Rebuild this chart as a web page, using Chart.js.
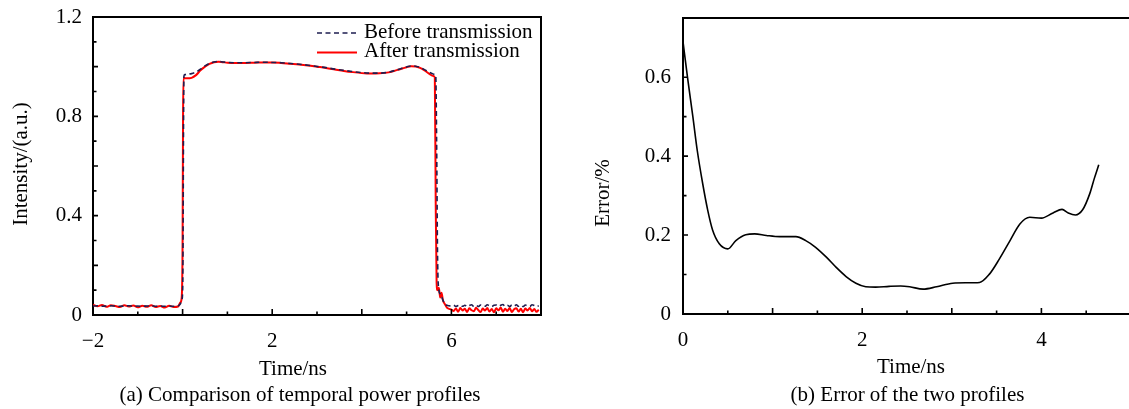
<!DOCTYPE html>
<html>
<head>
<meta charset="utf-8">
<script src="https://cdn.jsdelivr.net/npm/chart.js@4.4.1/dist/chart.umd.min.js"></script>
<style>
html,body{margin:0;padding:0;background:#fff;overflow:hidden;width:1129px;height:409px;position:relative;}
#c1{position:absolute;left:0;top:0;}
#c2{position:absolute;left:560px;top:0;}
</style>
</head>
<body>
<canvas id="c1" width="560" height="409"></canvas>
<canvas id="c2" width="575" height="409"></canvas>
<script>
// ---------- Panel (a): temporal power profiles ----------
const timeNs = [
  -2.0,-1.9,-1.8,-1.7,-1.6,-1.5,-1.4,-1.3,-1.2,-1.1,-1.0,-0.9,-0.8,-0.7,-0.6,-0.5,-0.4,-0.3,-0.2,-0.1,
  -0.05,-0.02,0.0,0.01,0.02,0.03,0.05,
  0.1,0.2,0.3,0.4,0.5,0.6,0.7,0.8,0.9,1.0,1.2,1.4,1.6,1.8,2.0,2.2,2.4,2.6,2.8,3.0,3.2,3.4,3.6,3.8,4.0,4.2,4.4,4.6,4.8,5.0,5.1,5.2,5.3,5.4,5.5,5.6,
  5.63,5.65,5.67,5.69,5.72,5.75,5.78,5.81,5.85,5.9,5.95,
  6.0,6.05,6.1,6.15,6.2,6.25,6.3,6.35,6.4,6.45,6.5,6.55,6.6,6.65,6.7,6.75,6.8,6.85,6.9,6.95,
  7.0,7.05,7.1,7.15,7.2,7.25,7.3,7.35,7.4,7.45,7.5,7.55,7.6,7.65,7.7,7.75,7.8,7.85,7.9,7.95
];
const beforeTx = [
  0.036,0.037,0.035,0.036,0.037,0.036,0.035,0.036,0.037,0.035,0.036,0.035,0.036,0.037,0.035,0.036,0.035,0.036,0.035,0.037,
  0.045,0.060,0.090,0.300,0.750,0.962,0.968,
  0.970,0.972,0.978,0.990,1.003,1.013,1.019,1.021,1.019,1.017,1.016,1.016,1.017,1.018,1.017,1.016,1.013,1.010,1.006,1.001,0.996,0.990,0.985,0.980,0.976,0.974,0.974,0.978,0.988,0.999,1.003,1.002,0.997,0.988,0.978,0.970,
  0.968,0.966,0.700,0.250,0.100,0.085,0.075,0.060,0.045,0.039,0.037,
  0.036,0.039,0.034,0.038,0.040,0.035,0.039,0.034,0.038,0.041,0.035,0.039,0.034,0.040,0.036,0.035,0.041,0.037,0.034,0.039,
  0.040,0.035,0.039,0.042,0.035,0.039,0.034,0.040,0.036,0.041,0.035,0.039,0.034,0.040,0.036,0.035,0.041,0.038,0.034,0.037
];
const afterTx = [
  0.041,0.035,0.040,0.033,0.039,0.036,0.032,0.039,0.034,0.038,0.031,0.037,0.033,0.039,0.032,0.036,0.030,0.037,0.032,0.034,
  0.050,0.070,0.300,0.800,0.955,0.955,0.953,
  0.953,0.955,0.966,0.985,1.000,1.011,1.018,1.020,1.018,1.016,1.015,1.015,1.016,1.017,1.017,1.015,1.012,1.009,1.005,1.000,0.995,0.989,0.983,0.978,0.974,0.972,0.973,0.977,0.987,0.998,1.002,1.001,0.995,0.985,0.972,0.962,
  0.955,0.450,0.130,0.100,0.110,0.070,0.090,0.060,0.045,0.030,0.025,
  0.022,0.016,0.026,0.013,0.028,0.018,0.025,0.012,0.027,0.019,0.015,0.029,0.020,0.012,0.026,0.018,0.028,0.014,0.024,0.011,
  0.027,0.019,0.030,0.013,0.025,0.016,0.028,0.012,0.023,0.027,0.014,0.025,0.011,0.026,0.018,0.028,0.015,0.024,0.013,0.021
];
const leftXLabels = [-2, 2, 6];
const leftYLabels = [0, 0.4, 0.8, 1.2];
const seriesNamesA = ['Before transmission', 'After transmission'];

// ---------- Panel (b): error of the two profiles ----------
const errTime = [0.0,0.05,0.11,0.16,0.22,0.275,0.33,0.405,0.50,0.59,0.70,0.80,0.93,1.08,1.26,1.37,1.48,1.60,1.71,1.82,1.93,2.04,2.15,2.30,2.43,2.53,2.68,2.83,3.01,3.16,3.31,3.42,3.53,3.65,3.76,3.87,4.00,4.13,4.23,4.30,4.38,4.46,4.54,4.59,4.64];
const errPct  = [0.690,0.600,0.500,0.413,0.330,0.264,0.213,0.178,0.165,0.186,0.201,0.203,0.199,0.196,0.196,0.186,0.169,0.144,0.118,0.095,0.078,0.069,0.068,0.070,0.071,0.069,0.063,0.069,0.078,0.079,0.080,0.101,0.139,0.186,0.228,0.245,0.243,0.256,0.265,0.256,0.251,0.264,0.305,0.343,0.378];
const rightXLabels = [0, 2, 4];
const rightYLabels = [0, 0.2, 0.4, 0.6];

// ---------- common ----------
const FONT = '"Liberation Serif", "Times New Roman", serif';
const near = (a, b) => Math.abs(a - b) < 1e-6;
const fmt = v => (v < 0 ? '\u2212' + Math.abs(v) : String(Math.round(v * 10) / 10));

const decor = {
  id: 'decor',
  afterDraw(chart, args, o) {
    const ctx = chart.ctx, ca = chart.chartArea;
    const xs = chart.scales.x, ys = chart.scales.y;
    ctx.save();
    ctx.strokeStyle = '#000';
    ctx.lineWidth = 2;
    ctx.setLineDash([]);
    ctx.beginPath();
    if (o.frameTop) { ctx.moveTo(ca.left - 1, ca.top); ctx.lineTo(ca.right + (o.frameRight ? 1 : 10), ca.top); }
    if (o.frameRight) { ctx.moveTo(ca.right, ca.top); ctx.lineTo(ca.right, ca.bottom + 1); }
    ctx.stroke();
    // inward tick marks from the library's ticks
    ctx.lineWidth = 1.6;
    ctx.beginPath();
    xs.ticks.forEach(t => {
      const v = t.value;
      if (near(v, xs.min) || near(v, xs.max)) return;
      const px = xs.getPixelForValue(v);
      const major = near(v / o.xMajor, Math.round(v / o.xMajor));
      const len = major ? 6 : 3.5;
      ctx.moveTo(px, ca.bottom); ctx.lineTo(px, ca.bottom - len);
    });
    ys.ticks.forEach(t => {
      const v = t.value;
      if (near(v, ys.min) || near(v, ys.max)) return;
      const py = ys.getPixelForValue(v);
      const major = near(v / o.yMajor, Math.round(v / o.yMajor));
      const len = major ? 5 : 3.5;
      ctx.moveTo(ca.left, py); ctx.lineTo(ca.left + len, py);
    });
    ctx.stroke();
    // texts
    ctx.fillStyle = '#000';
    ctx.font = '21px ' + FONT;
    ctx.textAlign = 'center';
    ctx.textBaseline = 'middle';
    ctx.fillText(o.xTitle, o.xTitlePos[0], o.xTitlePos[1]);
    ctx.fillText(o.caption, o.captionPos[0], o.captionPos[1]);
    ctx.save();
    ctx.translate(o.yTitlePos[0], o.yTitlePos[1]);
    ctx.rotate(-Math.PI / 2);
    ctx.fillText(o.yTitle, 0, 0);
    ctx.restore();
    // legend
    if (o.legend) {
      const L = o.legend;
      chart.data.datasets.forEach((ds, i) => {
        const y = L.y0 + i * L.dy;
        ctx.strokeStyle = ds.borderColor;
        ctx.lineWidth = ds.borderWidth;
        ctx.setLineDash(ds.borderDash || []);
        ctx.beginPath();
        ctx.moveTo(L.x0, y); ctx.lineTo(L.x0 + L.len, y);
        ctx.stroke();
        ctx.setLineDash([]);
        ctx.textAlign = 'left';
        ctx.fillText(ds.label, L.x0 + L.len + 7, y - 1);
      });
    }
    ctx.restore();
  }
};

function axis(min, max, step, labels, fitProp, fitVal, pad) {
  return {
    type: 'linear', min, max,
    afterFit: s => {
      s[fitProp] = fitVal;
      s.paddingLeft = 0; s.paddingRight = 0; s.paddingTop = 0; s.paddingBottom = 0;
    },
    grid: { display: false, drawTicks: false },
    border: { display: true, color: '#000', width: 2 },
    ticks: {
      stepSize: step, autoSkip: false, maxRotation: 0, padding: pad,
      color: '#000', font: { family: FONT, size: 21 },
      callback: v => (labels.some(l => near(l, v)) ? fmt(v) : '')
    }
  };
}

new Chart(document.getElementById('c1'), {
  type: 'line',
  data: {
    datasets: [
      { label: seriesNamesA[0], data: timeNs.map((t, i) => ({ x: t, y: beforeTx[i] })),
        borderColor: '#1e1e50', borderWidth: 1.6, borderDash: [5, 3.5], pointRadius: 0, fill: false,
        cubicInterpolationMode: 'monotone' },
      { label: seriesNamesA[1], data: timeNs.map((t, i) => ({ x: t, y: afterTx[i] })),
        borderColor: '#ff0000', borderWidth: 2, pointRadius: 0, fill: false,
        cubicInterpolationMode: 'monotone' }
    ]
  },
  options: {
    responsive: false, animation: false, devicePixelRatio: 1,
    layout: { padding: { left: 0, top: 17, right: 19, bottom: 0 } },
    scales: {
      x: axis(-2, 8, 1, leftXLabels, 'height', 94, 14),
      y: axis(0, 1.2, 0.1, leftYLabels, 'width', 93, 11)
    },
    plugins: {
      legend: { display: false }, tooltip: { enabled: false },
      decor: {
        frameTop: true, frameRight: true, xMajor: 2, yMajor: 0.2,
        xTitle: 'Time/ns', xTitlePos: [293, 369],
        yTitle: 'Intensity/(a.u.)', yTitlePos: [21, 164],
        caption: '(a) Comparison of temporal power profiles', captionPos: [300, 395],
        legend: { x0: 317, len: 40, y0: 33, dy: 19.5 }
      }
    }
  },
  plugins: [decor]
});

new Chart(document.getElementById('c2'), {
  type: 'line',
  data: {
    datasets: [
      { label: 'Error', data: errTime.map((t, i) => ({ x: t, y: errPct[i] })),
        borderColor: '#000', borderWidth: 1.6, pointRadius: 0, fill: false,
        cubicInterpolationMode: 'monotone' }
    ]
  },
  options: {
    responsive: false, animation: false, devicePixelRatio: 1,
    layout: { padding: { left: 0, top: 18, right: 4, bottom: 0 } },
    scales: {
      x: axis(0, 5, 0.5, rightXLabels, 'height', 95, 14),
      y: axis(0, 0.75, 0.1, rightYLabels, 'width', 123, 12)
    },
    plugins: {
      legend: { display: false }, tooltip: { enabled: false },
      decor: {
        frameTop: true, frameRight: false, xMajor: 1, yMajor: 0.2,
        xTitle: 'Time/ns', xTitlePos: [351, 367],
        yTitle: 'Error/%', yTitlePos: [43, 193],
        caption: '(b) Error of the two profiles', captionPos: [347.5, 395]
      }
    }
  },
  plugins: [decor]
});
</script>
</body>
</html>
